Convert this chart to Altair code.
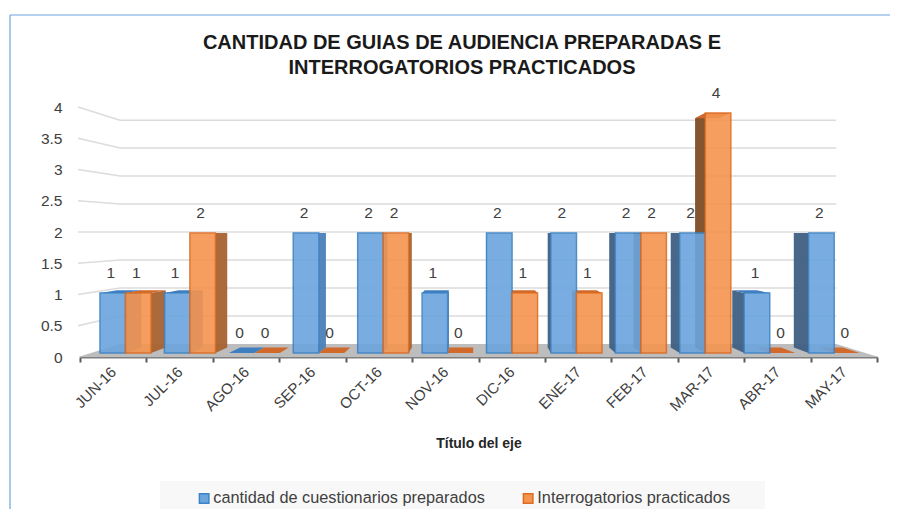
import altair as alt
import pandas as pd

months = ["JUN-16", "JUL-16", "AGO-16", "SEP-16", "OCT-16", "NOV-16", "DIC-16", "ENE-17", "FEB-17", "MAR-17", "ABR-17", "MAY-17"]
cuestionarios = [1, 1, 0, 2, 2, 1, 2, 2, 2, 2, 1, 2]
interrogatorios = [1, 2, 0, 0, 2, 0, 1, 1, 2, 4, 0, 0]
series_names = ["cantidad de cuestionarios preparados", "Interrogatorios practicados"]
y_ticks = [0, 0.5, 1, 1.5, 2, 2.5, 3, 3.5, 4]

FONT = "Liberation Sans"
TEXT = "#404040"
# fake-3D projection, all in axis units
VX, VY = 5.994, 2.0      # vanishing point
K_BAR, K_WALL = 0.045, 0.105
BAR_X0, BAR_STEP, BAR_W = 0.301, 0.97, 0.384
BAR_Y0, BAR_YK = 0.064, 0.96


def proj(x, y, k):
    return x + (VX - x) * k, y + (VY - y) * k


def bar_y(v):
    return BAR_Y0 + BAR_YK * v


fronts, sides, tops, labels = [], [], [], []
for s, vals in enumerate([cuestionarios, interrogatorios]):
    for i, v in enumerate(vals):
        x0 = BAR_X0 + BAR_STEP * i + s * BAR_W
        x1 = x0 + BAR_W
        base, top = bar_y(0), bar_y(v)
        sid = f"{s}-{i}"
        labels.append(dict(x=(x0 + x1) / 2 - 0.03, y=top, v=v))
        # top face (flat parallelogram when the value is 0)
        bx0, by = proj(x0, top, K_BAR)
        bx1, _ = proj(x1, top, K_BAR)
        tops.append(dict(id=sid, s=s, a=x0, b=x1, y=top))
        tops.append(dict(id=sid, s=s, a=bx0, b=bx1, y=by))
        if v > 0:
            fronts.append(dict(series=series_names[s], a=x0, b=x1, y=base, y2=top))
            ex = x1 if x1 < VX else x0
            side = "r" if x1 < VX else "l"
            ex2, t2 = proj(ex, top, K_BAR)
            _, b2 = proj(ex, base, K_BAR)
            sides.append(dict(id=sid, s=s, side=side, x=ex, y=base, y2=top))
            sides.append(dict(id=sid, s=s, side=side, x=ex2, y=b2, y2=t2))

fronts, sides, tops, labels = map(pd.DataFrame, (fronts, sides, tops, labels))

xs = alt.Scale(domain=[0, 12], range=[2, 799])
ys = alt.Scale(domain=[0, 4], range=[257, 7])
X = lambda f: alt.X(f, type="quantitative", scale=xs, axis=None)
Y = lambda f: alt.Y(f, type="quantitative", scale=ys, axis=None)

# walls
L, R = -0.03, 12.02
grid_rows = []
for t in y_ticks[1:]:
    bl = proj(L, t, K_WALL)
    br = proj(R, t, K_WALL)
    grid_rows += [dict(t=t, o=0, x=L, y=t), dict(t=t, o=1, x=bl[0], y=bl[1]), dict(t=t, o=2, x=br[0], y=br[1])]
grid = alt.Chart(pd.DataFrame(grid_rows)).mark_line(color="#dcdcdc", strokeWidth=1.5, clip=False).encode(
    x=X("x"), y=Y("y"), detail="t:N", order="o:Q")

fb_l, fb_y = proj(L, 0, K_WALL)
fb_r, _ = proj(R, 0, K_WALL)
floor = alt.Chart(pd.DataFrame([dict(a=L, b=R, y=0), dict(a=fb_l, b=fb_r, y=fb_y)])).mark_area(
    orient="horizontal", color="#bdbdbd").encode(
    y=Y("y"), x=X("a"), x2="b")

# y axis carrier
y_axis = alt.Chart(pd.DataFrame({"t": y_ticks})).mark_point(opacity=0).encode(
    x=alt.value(0),
    y=alt.Y("t:Q", scale=ys, title=None, axis=alt.Axis(
        values=y_ticks, format="~g", grid=False, domain=False, ticks=False, labelPadding=16,
        labelFont=FONT, labelFontSize=15.5, labelColor=TEXT)))

# x axis carrier
x_axis = alt.Chart(pd.DataFrame({"m": months})).mark_point(opacity=0).encode(
    x=alt.X("m:N", sort=months, scale=alt.Scale(domain=months, range=[2, 799]), title="Título del eje",
            axis=alt.Axis(labelAngle=-45, labelAlign="right", labelBaseline="middle", labelFont=FONT,
                          labelFontSize=15, labelColor=TEXT, labelPadding=7, domainColor="#7f7f7f",
                          domainWidth=2, tickColor="#595959", tickWidth=2, tickSize=5, tickBand="extent",
                          titleFont=FONT, titleFontSize=14, titleFontWeight="bold", titleColor="#262626",
                          titlePadding=23)),
    y=alt.value(257))

side_colors = {(0, "r"): "#4a80b8", (0, "l"): "#3f5f82", (1, "r"): "#a8612f", (1, "l"): "#7d4c24"}
side_layers = []
for (s, side), c in side_colors.items():
    d = sides[(sides.s == s) & (sides.side == side)]
    if len(d):
        side_layers.append(alt.Chart(d).mark_area(color=c, opacity=0.95).encode(
            x=X("x"), y=Y("y"), y2="y2", detail="id:N"))

top_colors = {0: "#3f7fbf", 1: "#d0692a"}
top_layers = [alt.Chart(tops[tops.s == s]).mark_area(orient="horizontal", color=c).encode(
    y=Y("y"), x=X("a"), x2="b", detail="id:N") for s, c in top_colors.items()]

front_layer = alt.Chart(fronts).mark_rect(strokeWidth=1.5, opacity=0.9).encode(
    x=X("a"), x2="b", y=Y("y"), y2="y2",
    color=alt.Color("series:N", sort=series_names,
                    scale=alt.Scale(domain=series_names, range=["#6ba5de", "#f4944f"]),
                    legend=alt.Legend(orient="none", legendX=118, legendY=390, direction="horizontal",
                                      title=None, symbolType="square", symbolSize=90, symbolOpacity=1,
                                      symbolStrokeWidth=1.5, labelFont=FONT, labelFontSize=16.3,
                                      labelColor=TEXT, labelLimit=400, columnPadding=35, labelOffset=1)),
    stroke=alt.Stroke("series:N", sort=series_names, legend=None,
                      scale=alt.Scale(domain=series_names, range=["#3b83c6", "#dd6c20"])))

text_layer = alt.Chart(labels).mark_text(dy=-20, font=FONT, fontSize=15.5, color=TEXT).encode(
    x=X("x"), y=Y("y"), text="v:Q")

# picture frame and legend strip (decoration only)
frame_top = alt.Chart(pd.DataFrame({"a": [0]})).mark_rule(color="#6aa5e0", strokeWidth=1.2).encode(
    x=alt.value(-68), x2=alt.value(812), y=alt.value(-85))
frame_left = alt.Chart(pd.DataFrame({"a": [0]})).mark_rule(color="#6aa5e0", strokeWidth=1.2).encode(
    x=alt.value(-68), y=alt.value(-85), y2=alt.value(409))
strip = alt.Chart(pd.DataFrame({"a": [0]})).mark_rect(color="#f8f8f8").encode(
    x=alt.value(82), x2=alt.value(687), y=alt.value(381), y2=alt.value(412))

chart = alt.layer(
    frame_top, frame_left, strip, floor, grid, y_axis, x_axis,
    *side_layers, *top_layers, front_layer, text_layer,
).resolve_scale(x="independent", y="independent", color="independent", stroke="independent").properties(
    width=800, height=257,
    padding={"left": 70, "top": 92, "right": 12, "bottom": 152},
    autosize=alt.AutoSizeParams(type="none"),
    title=alt.TitleParams(
        ["CANTIDAD DE GUIAS DE AUDIENCIA PREPARADAS E", "INTERROGATORIOS PRACTICADOS"],
        font=FONT, fontSize=20, fontWeight="bold", color="#1a1a1a", anchor="middle",
        dx=-16, lineHeight=25, offset=-64, frame="group"),
).configure_view(stroke=None)

chart.save("out.html", embed_options={"renderer": "svg", "actions": False})
